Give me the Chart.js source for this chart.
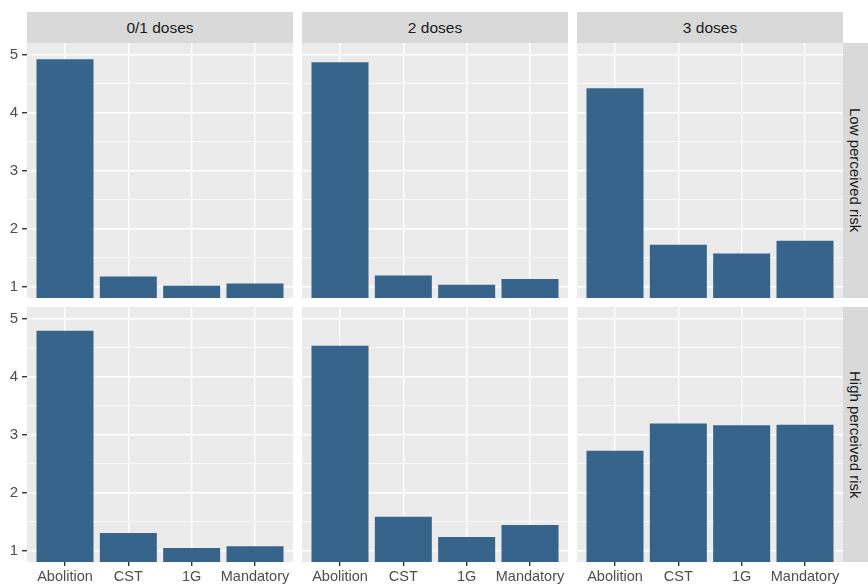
<!DOCTYPE html>
<html>
<head>
<meta charset="utf-8">
<script src="https://cdn.jsdelivr.net/npm/chart.js@4.4.1/dist/chart.umd.min.js"></script>
<style>
  html, body { margin: 0; padding: 0; background: #fff; }
  #wrap { position: relative; width: 868px; height: 584px; overflow: hidden; font-family: 'Liberation Sans', Arial, sans-serif; }
  #wrap canvas { position: absolute; }
  .strip { position: absolute; background: #D9D9D9; color: #1A1A1A; font-size: 15.5px; display: flex; align-items: center; justify-content: center; }
  .strip.right { writing-mode: vertical-rl; font-size: 15px; }
</style>
</head>
<body>
<div id="wrap"></div>
<script>
// data
const categories = ['Abolition', 'CST', '1G', 'Mandatory']
const doseGroups = ['0/1 doses', '2 doses', '3 doses']
const riskGroups = ['Low perceived risk', 'High perceived risk']
const yTicks = [1, 2, 3, 4, 5]

const lowRisk01 = [4.92, 1.17, 1.01, 1.05]
const lowRisk2 = [4.87, 1.19, 1.03, 1.13]
const lowRisk3 = [4.42, 1.72, 1.57, 1.79]
const highRisk01 = [4.79, 1.30, 1.04, 1.07]
const highRisk2 = [4.53, 1.58, 1.23, 1.44]
const highRisk3 = [2.72, 3.19, 3.16, 3.17]

const panelValues = [
  [lowRisk01, lowRisk2, lowRisk3],
  [highRisk01, highRisk2, highRisk3],
]

// layout (ggplot facet grid)
const PANEL_X = [27, 302, 577]
const PANEL_W = 266
const PANEL_Y = [43, 307]
const PANEL_H = [255, 255]
const STRIP_TOP = 12
const STRIP_W = 25
const Y_AXIS_W = 27
const X_AXIS_H = 24
const Y_MIN = 0.8
const Y_MAX = 5.2

const BAR_COLOR = '#36648B'
const FONT_FAMILY = "'Liberation Sans', Arial, sans-serif"

// minor grid at midpoints, like ggplot
const yGrid = []
yTicks.forEach((t, i) => {
  yGrid.push(t)
  if (i < yTicks.length - 1) yGrid.push((t + yTicks[i + 1]) / 2)
})

const panelBg = {
  id: 'panelBg',
  beforeDraw(chart) {
    const { ctx, chartArea: a } = chart
    ctx.save()
    ctx.fillStyle = '#EBEBEB'
    ctx.fillRect(a.left, a.top, a.width, a.height)
    ctx.restore()
  },
}

const wrap = document.getElementById('wrap')

function addStrip(text, left, top, width, height, right) {
  const div = document.createElement('div')
  div.className = right ? 'strip right' : 'strip'
  div.textContent = text
  div.style.left = left + 'px'
  div.style.top = top + 'px'
  div.style.width = width + 'px'
  div.style.height = height + 'px'
  wrap.appendChild(div)
}

function createPanel(row, col) {
  const hasY = col === 0
  const hasX = row === PANEL_Y.length - 1
  const w = PANEL_W + (hasY ? Y_AXIS_W : 0)
  const h = PANEL_H[row] + (hasX ? X_AXIS_H : 0)

  const canvas = document.createElement('canvas')
  canvas.width = w
  canvas.height = h
  canvas.style.width = w + 'px'
  canvas.style.height = h + 'px'
  canvas.style.left = PANEL_X[col] - (hasY ? Y_AXIS_W : 0) + 'px'
  canvas.style.top = PANEL_Y[row] + 'px'
  wrap.appendChild(canvas)

  const values = panelValues[row][col]

  new Chart(canvas, {
    type: 'bar',
    data: {
      datasets: [
        {
          data: values.map((v, i) => ({ x: i + 1, y: v })),
          backgroundColor: BAR_COLOR,
          barPercentage: 0.9,
          categoryPercentage: 1,
          clip: 0,
        },
      ],
    },
    options: {
      responsive: false,
      animation: false,
      devicePixelRatio: 1,
      layout: { padding: 0 },
      plugins: {
        legend: { display: false },
        tooltip: { enabled: false },
      },
      scales: {
        x: {
          type: 'linear',
          min: 0.4,
          max: categories.length + 0.6,
          offset: false,
          afterBuildTicks: (scale) => {
            scale.ticks = categories.map((c, i) => ({ value: i + 1 }))
          },
          afterFit: (scale) => {
            scale.height = hasX ? X_AXIS_H : 0
            scale.paddingLeft = 0
            scale.paddingRight = 0
          },
          border: { display: false },
          grid: {
            offset: false,
            color: '#FFFFFF',
            lineWidth: 1.4,
            drawTicks: hasX,
            tickLength: 4,
            tickColor: '#333333',
            tickWidth: 1.4,
          },
          ticks: {
            display: hasX,
            autoSkip: false,
            maxRotation: 0,
            padding: 2,
            color: '#4D4D4D',
            font: { family: FONT_FAMILY, size: 14.5 },
            callback: (v) => categories[Math.round(v) - 1],
          },
        },
        y: {
          type: 'linear',
          min: Y_MIN,
          max: Y_MAX,
          afterBuildTicks: (scale) => {
            scale.ticks = yGrid.map((v) => ({ value: v }))
          },
          afterFit: (scale) => {
            scale.width = hasY ? Y_AXIS_W : 0
            scale.paddingTop = 0
            scale.paddingBottom = 0
          },
          border: { display: false },
          grid: {
            color: '#FFFFFF',
            lineWidth: (ctx) => (Number.isInteger(ctx.tick.value) ? 1.4 : 0.7),
            drawTicks: hasY,
            tickLength: 5,
            tickColor: (ctx) =>
              Number.isInteger(ctx.tick.value) ? '#333333' : 'rgba(0,0,0,0)',
            tickWidth: 1.4,
          },
          ticks: {
            display: hasY,
            autoSkip: false,
            padding: 4,
            color: '#4D4D4D',
            font: { family: FONT_FAMILY, size: 15 },
            callback: (v) => (Number.isInteger(v) ? v : ''),
          },
        },
      },
    },
    plugins: [panelBg],
  })
}

doseGroups.forEach((d, col) => {
  addStrip(d, PANEL_X[col], STRIP_TOP, PANEL_W, PANEL_Y[0] - STRIP_TOP, false)
})
riskGroups.forEach((r, row) => {
  addStrip(r, PANEL_X[2] + PANEL_W, PANEL_Y[row], STRIP_W, PANEL_H[row], true)
})

for (let row = 0; row < PANEL_Y.length; row++) {
  for (let col = 0; col < PANEL_X.length; col++) {
    createPanel(row, col)
  }
}
</script>
</body>
</html>
